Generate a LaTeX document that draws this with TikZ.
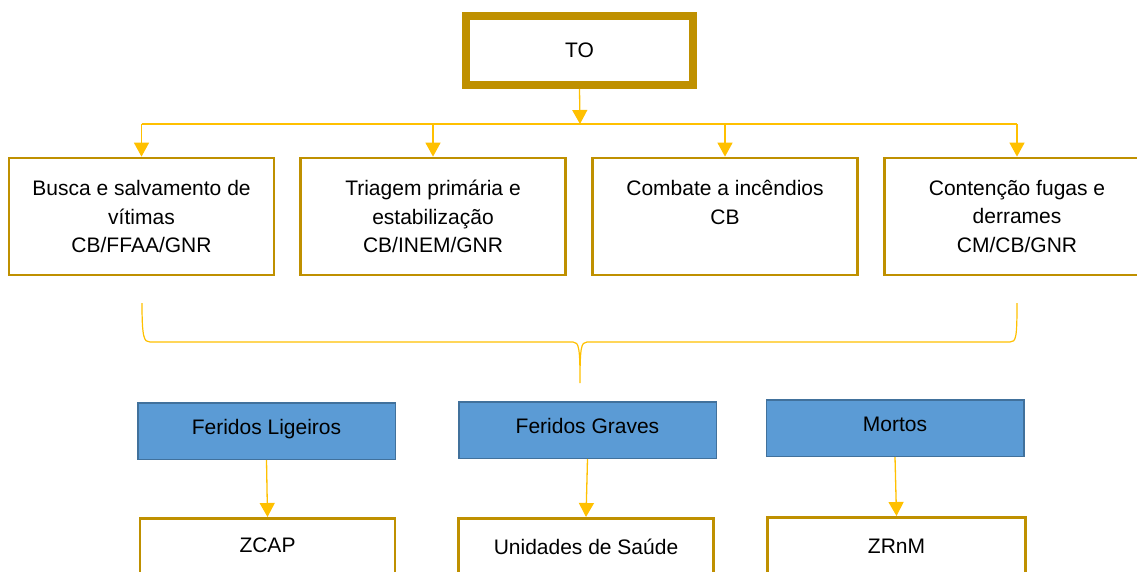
\documentclass[tikz,border=0pt]{standalone}
\usepackage{fontspec}
\setmainfont{Liberation Sans}
\usetikzlibrary{arrows.meta,calc}
\definecolor{goldb}{HTML}{BF9000}
\definecolor{goldl}{HTML}{FFC000}
\definecolor{bluef}{HTML}{5B9BD5}
\definecolor{blued}{HTML}{41719C}
\begin{document}
\begin{tikzpicture}[x=1pt,y=-1pt,
  txt/.style={font=\fontsize{21}{28.5}\selectfont, align=center, inner sep=0pt},
  topbox/.style={draw=goldb, line width=8pt, minimum width=227pt, minimum height=69pt, inner sep=0pt, txt},
  actbox/.style={draw=goldb, line width=2.7pt, minimum width=265pt, minimum height=117pt, inner sep=0pt, txt},
  catbox/.style={draw=blued, fill=bluef, line width=1.5pt, minimum width=257.5pt, minimum height=56.5pt, inner sep=0pt},
  destbox/.style={draw=goldb, line width=2.7pt, minimum width=255pt, minimum height=80pt, inner sep=0pt},
  conn/.style={draw=goldl, line width=1.3pt},
  arr/.style={conn, -{Triangle[width=15pt,length=14pt]}}
]
\useasboundingbox (0,0) rectangle (1137,572);
\clip (0,0) rectangle (1137,572);

% top node
\node[topbox] (to) at (579.5,50.5) {TO};

% activity boxes
\node[actbox] (b1) at (141.5,216.5) {Busca e salvamento de\\vítimas\\CB/FFAA/GNR};
\node[actbox] (b2) at (433,216.5) {Triagem primária e\\estabilização\\CB/INEM/GNR};
\node[actbox] (b3) at (725,216.5) {Combate a incêndios\\CB\\\mbox{}};
\node[actbox] (b4) at (1017,216.5) {Contenção fugas e\\derrames\\CM/CB/GNR};

% distribution bar
\coordinate (bar) at (580,124);
\draw[arr] (to.south) -- (bar);
\draw[conn] (b1.north |- bar) -- (b4.north |- bar);
\draw[arr] (b1.north |- bar) -- (b1.north);
\draw[arr] (b2.north |- bar) -- (b2.north);
\draw[arr] (b3.north |- bar) -- (b3.north);
\draw[arr] (b4.north |- bar) -- (b4.north);

% brace
\coordinate (brL) at (142,303);
\coordinate (brR) at (1017,303);
\coordinate (brC) at (580,383);
\draw[conn, line width=1.2pt] (brL) .. controls (142,338) and (144,342) .. (150,342)
  -- (573,342) .. controls (579,342) and (580,348) .. (brC)
  .. controls (580,348) and (581,342) .. (587,342)
  -- (1010,342) .. controls (1016,342) and (1017,338) .. (brR);

% categories
\node[catbox] (fl) at (266.5,431) {};
\node[catbox] (fg) at (587.5,430) {};
\node[catbox] (mo) at (895,428) {};
\node[txt, anchor=base] (flt) at (266.5,434) {Feridos Ligeiros};
\node[txt, anchor=base] (fgt) at (587.5,433) {Feridos Graves};
\node[txt, anchor=base] (mot) at (895,431) {Mortos};

% destinations
\node[destbox, anchor=north] (zc) at (267.5,517) {};
\node[destbox, anchor=north] (us) at (586,517) {};
\node[destbox, anchor=north, minimum width=258pt] (zr) at (896.5,516) {};
\node[txt, anchor=base] (zct) at (267.5,552) {ZCAP};
\node[txt, anchor=base] (ust) at (586,554) {Unidades de Saúde};
\node[txt, anchor=base] (zrt) at (896.5,553) {ZRnM};

\draw[arr] (fl.south) -- (zc.north);
\draw[arr] (fg.south) -- (us.north);
\draw[arr] (mo.south) -- (zr.north);
\end{tikzpicture}
\end{document}
